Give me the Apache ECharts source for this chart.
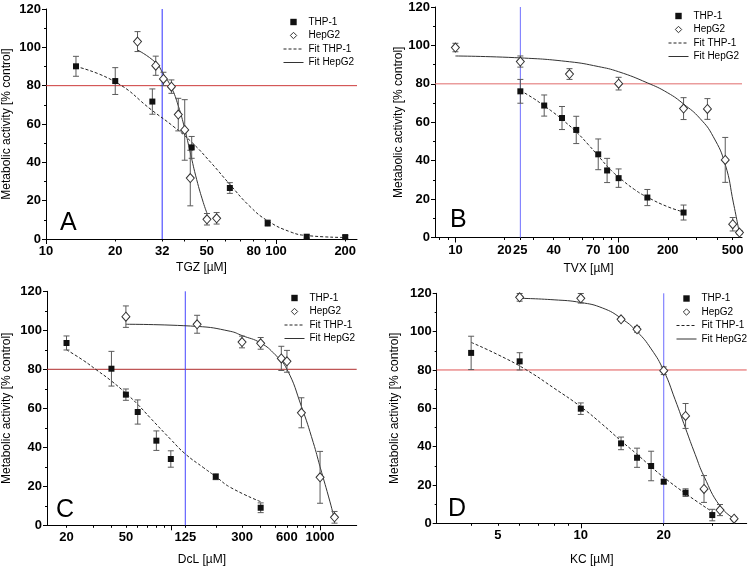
<!DOCTYPE html>
<html><head><meta charset="utf-8">
<script src="https://cdn.jsdelivr.net/npm/echarts@6/dist/echarts.min.js"></script>
<style>html,body{margin:0;padding:0;background:#fff}#c{width:750px;height:567px}</style>
</head><body><div id="c"></div>
<script>
// ================= DATA =================
const thresholdY = 80;
const yMin = 0, yMax = 120, yStep = 20;

// ---- Panel A : TGZ ----
const tgzLabels = [10, 20, 32, 50, 80, 100, 200];
const tgzMajorTicks = [10, 100];
const tgzMinorTicks = [20, 32, 40, 50, 60, 70, 80, 90, 200];
const tgzMarker = 32;
const tgzThpX = [13.5, 20, 29, 43, 63, 92, 136, 200];
const tgzThpY = [90.1, 82.4, 71.7, 47.8, 26.6, 8.3, 1.2, 1.0];
const tgzThpErr = [5.2, 7.0, 6.6, 5.7, 2.8, 1.6, 0.8, 0.8];
const tgzHepX = [25, 30, 32.4, 35.1, 37.6, 40.1, 42.4, 50.1, 55.2];
const tgzHepY = [103, 90.4, 83.5, 79.5, 64.9, 56.9, 31.8, 10.3, 10.8];
const tgzHepErr = [5.2, 5.0, 3.5, 3.5, 8.5, 15.8, 14.5, 3.0, 3.0];
const tgzFitThpX = [13.5, 20, 29, 36, 43, 52, 63, 77, 92, 115, 136, 200];
const tgzFitThpY = [90, 82, 67, 58.5, 50.5, 40, 28.5, 17, 9.5, 3.8, 1.8, 0.8];
const tgzFitHepX = [25, 30, 32.4, 35.1, 37.6, 40.1, 42.4, 45.2, 48.3, 50.1];
const tgzFitHepY = [98.6, 92, 86, 79, 69.5, 57.5, 45, 31, 19, 13.5];

// ---- Panel B : TVX ----
const tvxLabels = [10, 20, 25, 40, 70, 100, 200, 500];
const tvxMajorTicks = [10, 100];
const tvxMinorTicks = [8, 9, 20, 25, 30, 40, 50, 60, 70, 80, 90, 200, 300, 400, 500];
const tvxMarker = 25;
const tvxThpX = [25, 35, 45, 55, 75, 85, 100, 150, 250];
const tvxThpY = [76.1, 68.7, 62.2, 56.0, 43.3, 34.9, 30.9, 20.8, 13.0];
const tvxThpErr = [6.2, 5.5, 6.0, 7.1, 8.0, 6.3, 4.8, 4.2, 3.9];
const tvxHepX = [10, 25, 50, 100, 250, 350, 450, 500, 550];
const tvxHepY = [98.9, 91.6, 85.1, 80.1, 67.1, 66.9, 40.4, 6.9, 2.6];
const tvxHepErr = [2.2, 2.9, 2.8, 3.3, 5.7, 5.4, 11.7, 3.5, 1.0];
const tvxFitThpX = [25, 30, 35, 40, 45, 55, 65, 75, 88, 100, 125, 150, 200, 250];
const tvxFitThpY = [76.5, 72.5, 68.5, 65, 61.5, 55, 48.5, 42.5, 35.8, 31.5, 25, 21, 16, 13.3];
const tvxFitHepX = [10, 25, 50, 75, 100, 150, 200, 250, 315, 380, 450, 505, 550];
const tvxFitHepY = [94.5, 93.5, 91.5, 89, 86.3, 80.5, 75.3, 69.5, 62, 52.5, 38, 18, 2.1];

// ---- Panel C : DcL ----
const dclLabels = [20, 50, 125, 300, 600, 1000];
const dclMajorTicks = [100, 1000];
const dclMinorTicks = [20, 30, 40, 50, 60, 70, 80, 90, 125, 200, 300, 400, 500, 600, 700, 800, 900];
const dclMarker = 125;
const dclThpX = [20, 40, 50, 60, 80, 100, 200, 400];
const dclThpY = [93.5, 80.3, 67.0, 58.1, 43.4, 34.0, 24.9, 9.0];
const dclThpErr = [3.6, 8.9, 2.9, 6.2, 5.0, 4.2, 1.5, 2.5];
const dclHepX = [50, 150, 300, 400, 550, 600, 750, 1000, 1250];
const dclHepY = [107.0, 103.1, 94.0, 93.3, 85.6, 84.1, 57.7, 24.6, 4.1];
const dclHepErr = [5.5, 4.6, 3.0, 3.0, 6.2, 5.6, 7.7, 13.3, 3.0];
const dclFitThpX = [20, 26, 32, 40, 50, 60, 73, 100, 125, 166, 200, 250, 400];
const dclFitThpY = [90, 84.5, 79.5, 74, 67.7, 62, 55, 44, 36.6, 29.5, 25, 19.5, 12.1];
const dclFitHepX = [50, 150, 250, 300, 400, 500, 600, 750, 900, 1000, 1166, 1250];
const dclFitHepY = [103.1, 102, 99.5, 97.3, 93.5, 87.5, 80, 61, 42.5, 30, 12, 3];

// ---- Panel D : KC ----
const kcLabels = [5, 10, 20];
const kcMajorTicks = [10];
const kcMinorTicks = [4, 5, 6, 7, 8, 9, 20, 30];
const kcMarker = 20;
const kcThpX = [4, 6, 10, 14, 16, 18, 20, 24, 30];
const kcThpY = [88.9, 84.5, 59.8, 41.7, 34.2, 29.9, 21.7, 16.0, 4.3];
const kcThpErr = [8.7, 4.5, 3.0, 3.3, 5.0, 7.7, 1.0, 2.0, 3.0];
const kcHepX = [6, 10, 14, 16, 20, 24, 28, 32, 36];
const kcHepY = [117.9, 117.4, 106.4, 101.2, 79.6, 56.0, 17.9, 6.9, 2.4];
const kcHepErr = [2.0, 2.5, 1.0, 1.5, 2.0, 6.5, 7.0, 2.9, 1.0];
const kcFitThpX = [4, 5, 6.3, 8, 10, 12, 14, 16, 18, 20, 24, 30];
const kcFitThpY = [94.4, 88, 80.3, 70.5, 60.8, 51.5, 43, 36, 29.5, 24, 15.5, 6];
const kcFitHepX = [6, 8, 10, 12, 14, 16, 18, 20, 22, 24, 26, 28, 32, 36];
const kcFitHepY = [117.4, 116.6, 115.2, 112.3, 107, 100, 91, 79.6, 64.5, 49.5, 36, 24.5, 9, 2.4];

// ================= PANELS =================
const FONT = 'Liberation Sans, Arial, sans-serif';
const panels = [
  { letter: 'A', xName: 'TGZ [\u00b5M]', min: 10, max: 225, labels: tgzLabels, major: tgzMajorTicks, minor: tgzMinorTicks, marker: tgzMarker,
    thp: [tgzThpX, tgzThpY, tgzThpErr], hep: [tgzHepX, tgzHepY, tgzHepErr], fitThp: [tgzFitThpX, tgzFitThpY], fitHep: [tgzFitHepX, tgzFitHepY],
    grid: { left: 46, top: 9, width: 311, height: 230 }, xGap: 23, yGap: 33,
    legend: { left: 283, top: 16 }, title: { left: 60, top: 211 }, red: '#cc3a3a', blue: '#2f2fff' },
  { letter: 'B', xName: 'TVX [\u00b5M]', min: 7.5, max: 570, labels: tvxLabels, major: tvxMajorTicks, minor: tvxMinorTicks, marker: tvxMarker,
    thp: [tvxThpX, tvxThpY, tvxThpErr], hep: [tvxHepX, tvxHepY, tvxHepErr], fitThp: [tvxFitThpX, tvxFitThpY], fitHep: [tvxFitHepX, tvxFitHepY],
    grid: { left: 435, top: 7, width: 307, height: 230.5 }, xGap: 25, yGap: 29,
    legend: { left: 668, top: 10 }, title: { left: 450, top: 208 }, red: '#e06c6c', blue: '#6f6fff' },
  { letter: 'C', xName: 'DcL [\u00b5M]', min: 14.8, max: 1760, labels: dclLabels, major: dclMajorTicks, minor: dclMinorTicks, marker: dclMarker,
    thp: [dclThpX, dclThpY, dclThpErr], hep: [dclHepX, dclHepY, dclHepErr], fitThp: [dclFitThpX, dclFitThpY], fitHep: [dclFitHepX, dclFitHepY],
    grid: { left: 46, top: 291.3, width: 310.7, height: 234 }, xGap: 28, yGap: 34,
    legend: { left: 284, top: 292 }, title: { left: 56, top: 498 }, red: '#b02c2c', blue: '#4545ff' },
  { letter: 'D', xName: 'KC [\u00b5M]', min: 3, max: 40, labels: kcLabels, major: kcMajorTicks, minor: kcMinorTicks, marker: kcMarker,
    thp: [kcThpX, kcThpY, kcThpErr], hep: [kcHepX, kcHepY, kcHepErr], fitThp: [kcFitThpX, kcFitThpY], fitHep: [kcFitHepX, kcFitHepY],
    grid: { left: 436.7, top: 293.3, width: 310, height: 230 }, xGap: 30, yGap: 35.7,
    legend: { left: 676, top: 292.5 }, title: { left: 448, top: 496.5 }, red: '#e05555', blue: '#6a6aff' }
];

function zip(xs, ys) { return xs.map((x, i) => [x, ys[i]]); }
function errData(xs, ys, es) { return xs.map((x, i) => [x, ys[i] - es[i], ys[i] + es[i]]); }

function errRender(params, api) {
  const x = api.value(0), lo = api.value(1), hi = api.value(2);
  const a = api.coord([x, hi]), b = api.coord([x, lo]);
  const hw = 3;
  const st = { stroke: '#5a5a5a', lineWidth: 1, fill: null };
  return { type: 'group', children: [
    { type: 'line', shape: { x1: a[0], y1: a[1], x2: b[0], y2: b[1] }, style: st },
    { type: 'line', shape: { x1: a[0] - hw, y1: a[1], x2: a[0] + hw, y2: a[1] }, style: st },
    { type: 'line', shape: { x1: b[0] - hw, y1: b[1], x2: b[0] + hw, y2: b[1] }, style: st }
  ] };
}

function refSeries(xi, yi, pts, color) {
  return {
    type: 'line', xAxisIndex: xi, yAxisIndex: yi, data: pts, z: 1, silent: true,
    symbol: 'none', showSymbol: false, clip: false,
    lineStyle: { color: color, width: 1, type: 'solid', opacity: 1 },
    itemStyle: { color: color },
    emphasis: { disabled: true }
  };
}

const grids = [], xAxes = [], yAxes = [], series = [], legends = [], titles = [];
panels.forEach((p, i) => {
  grids.push(Object.assign({ containLabel: false }, p.grid));
  titles.push({ text: p.letter, left: p.title.left, top: p.title.top, padding: 0,
    textStyle: { fontFamily: FONT, fontSize: 25, fontWeight: 'normal', color: '#000' } });
  xAxes.push({
    gridIndex: i, type: 'log', logBase: 10, min: p.min, max: p.max, position: 'bottom',
    name: p.xName, nameLocation: 'middle', nameGap: p.xGap,
    nameTextStyle: { fontFamily: FONT, fontSize: 12, color: '#000' },
    axisLine: { show: true, onZero: false, lineStyle: { color: '#000', width: 1 } },
    axisTick: { show: true, customValues: p.major, length: 5, lineStyle: { color: '#000' } },
    axisLabel: { customValues: p.labels, formatter: v => String(v), margin: 6,
      fontFamily: FONT, fontSize: 13, fontWeight: 'bold', color: '#000' },
    splitLine: { show: false }, minorTick: { show: false }
  });
  xAxes.push({
    gridIndex: i, type: 'log', logBase: 10, min: p.min, max: p.max, position: 'bottom',
    axisLine: { show: false, onZero: false },
    axisTick: { show: true, customValues: p.minor, length: 2.5, lineStyle: { color: '#000' } },
    axisLabel: { show: false }, splitLine: { show: false }
  });
  yAxes.push({
    gridIndex: i, type: 'value', min: yMin, max: yMax, interval: yStep,
    name: 'Metabolic activity [% control]', nameLocation: 'middle', nameGap: p.yGap,
    nameTextStyle: { fontFamily: FONT, fontSize: 12, color: '#000' },
    axisLine: { show: true, lineStyle: { color: '#000', width: 1 } },
    axisTick: { show: true, length: 4, lineStyle: { color: '#000' } },
    minorTick: { show: true, splitNumber: 2, length: 2, lineStyle: { color: '#000' } },
    axisLabel: { margin: 5, fontFamily: FONT, fontSize: 13, fontWeight: 'bold', color: '#000' },
    splitLine: { show: false }
  });
  const xi = 2 * i, yi = i;
  series.push(refSeries(xi, yi, [[p.min, thresholdY], [p.max, thresholdY]], p.red));
  series.push(refSeries(xi, yi, [[p.marker, yMin], [p.marker, yMax]], p.blue));
  series.push({
    name: 'Fit THP-1', type: 'line', xAxisIndex: xi, yAxisIndex: yi, data: zip(p.fitThp[0], p.fitThp[1]),
    symbol: 'none', smooth: 0.5, z: 2,
    lineStyle: { color: '#222', width: 1, type: [3, 2] }, itemStyle: { color: '#222' }
  });
  series.push({
    name: 'Fit HepG2', type: 'line', xAxisIndex: xi, yAxisIndex: yi, data: zip(p.fitHep[0], p.fitHep[1]),
    symbol: 'none', smooth: 0.5, z: 2,
    lineStyle: { color: '#333', width: 1, type: 'solid' }, itemStyle: { color: '#333' }
  });
  series.push({ type: 'custom', xAxisIndex: xi, yAxisIndex: yi, renderItem: errRender, z: 3,
    encode: { x: 0, y: [1, 2] }, data: errData(p.thp[0], p.thp[1], p.thp[2]) });
  series.push({ type: 'custom', xAxisIndex: xi, yAxisIndex: yi, renderItem: errRender, z: 3,
    encode: { x: 0, y: [1, 2] }, data: errData(p.hep[0], p.hep[1], p.hep[2]) });
  series.push({
    name: 'THP-1', type: 'line', xAxisIndex: xi, yAxisIndex: yi, data: zip(p.thp[0], p.thp[1]),
    symbol: 'rect', symbolSize: 6, showSymbol: true, z: 5,
    lineStyle: { width: 0, opacity: 0 }, itemStyle: { color: '#111' }
  });
  series.push({
    name: 'HepG2', type: 'line', xAxisIndex: xi, yAxisIndex: yi, data: zip(p.hep[0], p.hep[1]),
    symbol: 'diamond', symbolSize: [8, 9], showSymbol: true, z: 5,
    lineStyle: { width: 0, opacity: 0 }, itemStyle: { color: '#fff', borderColor: '#333', borderWidth: 1 }
  });
  legends.push({
    left: p.legend.left, top: p.legend.top, orient: 'vertical', padding: 0,
    itemWidth: 20, itemHeight: 8, itemGap: 1.5, selectedMode: false,
    textStyle: { fontFamily: FONT, fontSize: 10, color: '#000', lineHeight: 12 },
    data: [
      { name: 'THP-1', lineStyle: { width: 0, opacity: 0 }, itemStyle: { color: '#111', borderWidth: 0 } },
      { name: 'HepG2', lineStyle: { width: 0, opacity: 0 }, itemStyle: { color: '#fff', borderColor: '#333', borderWidth: 1 } },
      { name: 'Fit THP-1', lineStyle: { width: 1, color: '#222', type: [3, 2] }, itemStyle: { opacity: 0 } },
      { name: 'Fit HepG2', lineStyle: { width: 1, color: '#333', type: 'solid' }, itemStyle: { opacity: 0 } }
    ]
  });
});

const chart = echarts.init(document.getElementById('c'), null, { renderer: 'canvas' });
chart.setOption({
  animation: false,
  backgroundColor: '#fff',
  textStyle: { fontFamily: FONT },
  title: titles,
  legend: legends,
  grid: grids,
  xAxis: xAxes,
  yAxis: yAxes,
  series: series
});
</script></body></html>
